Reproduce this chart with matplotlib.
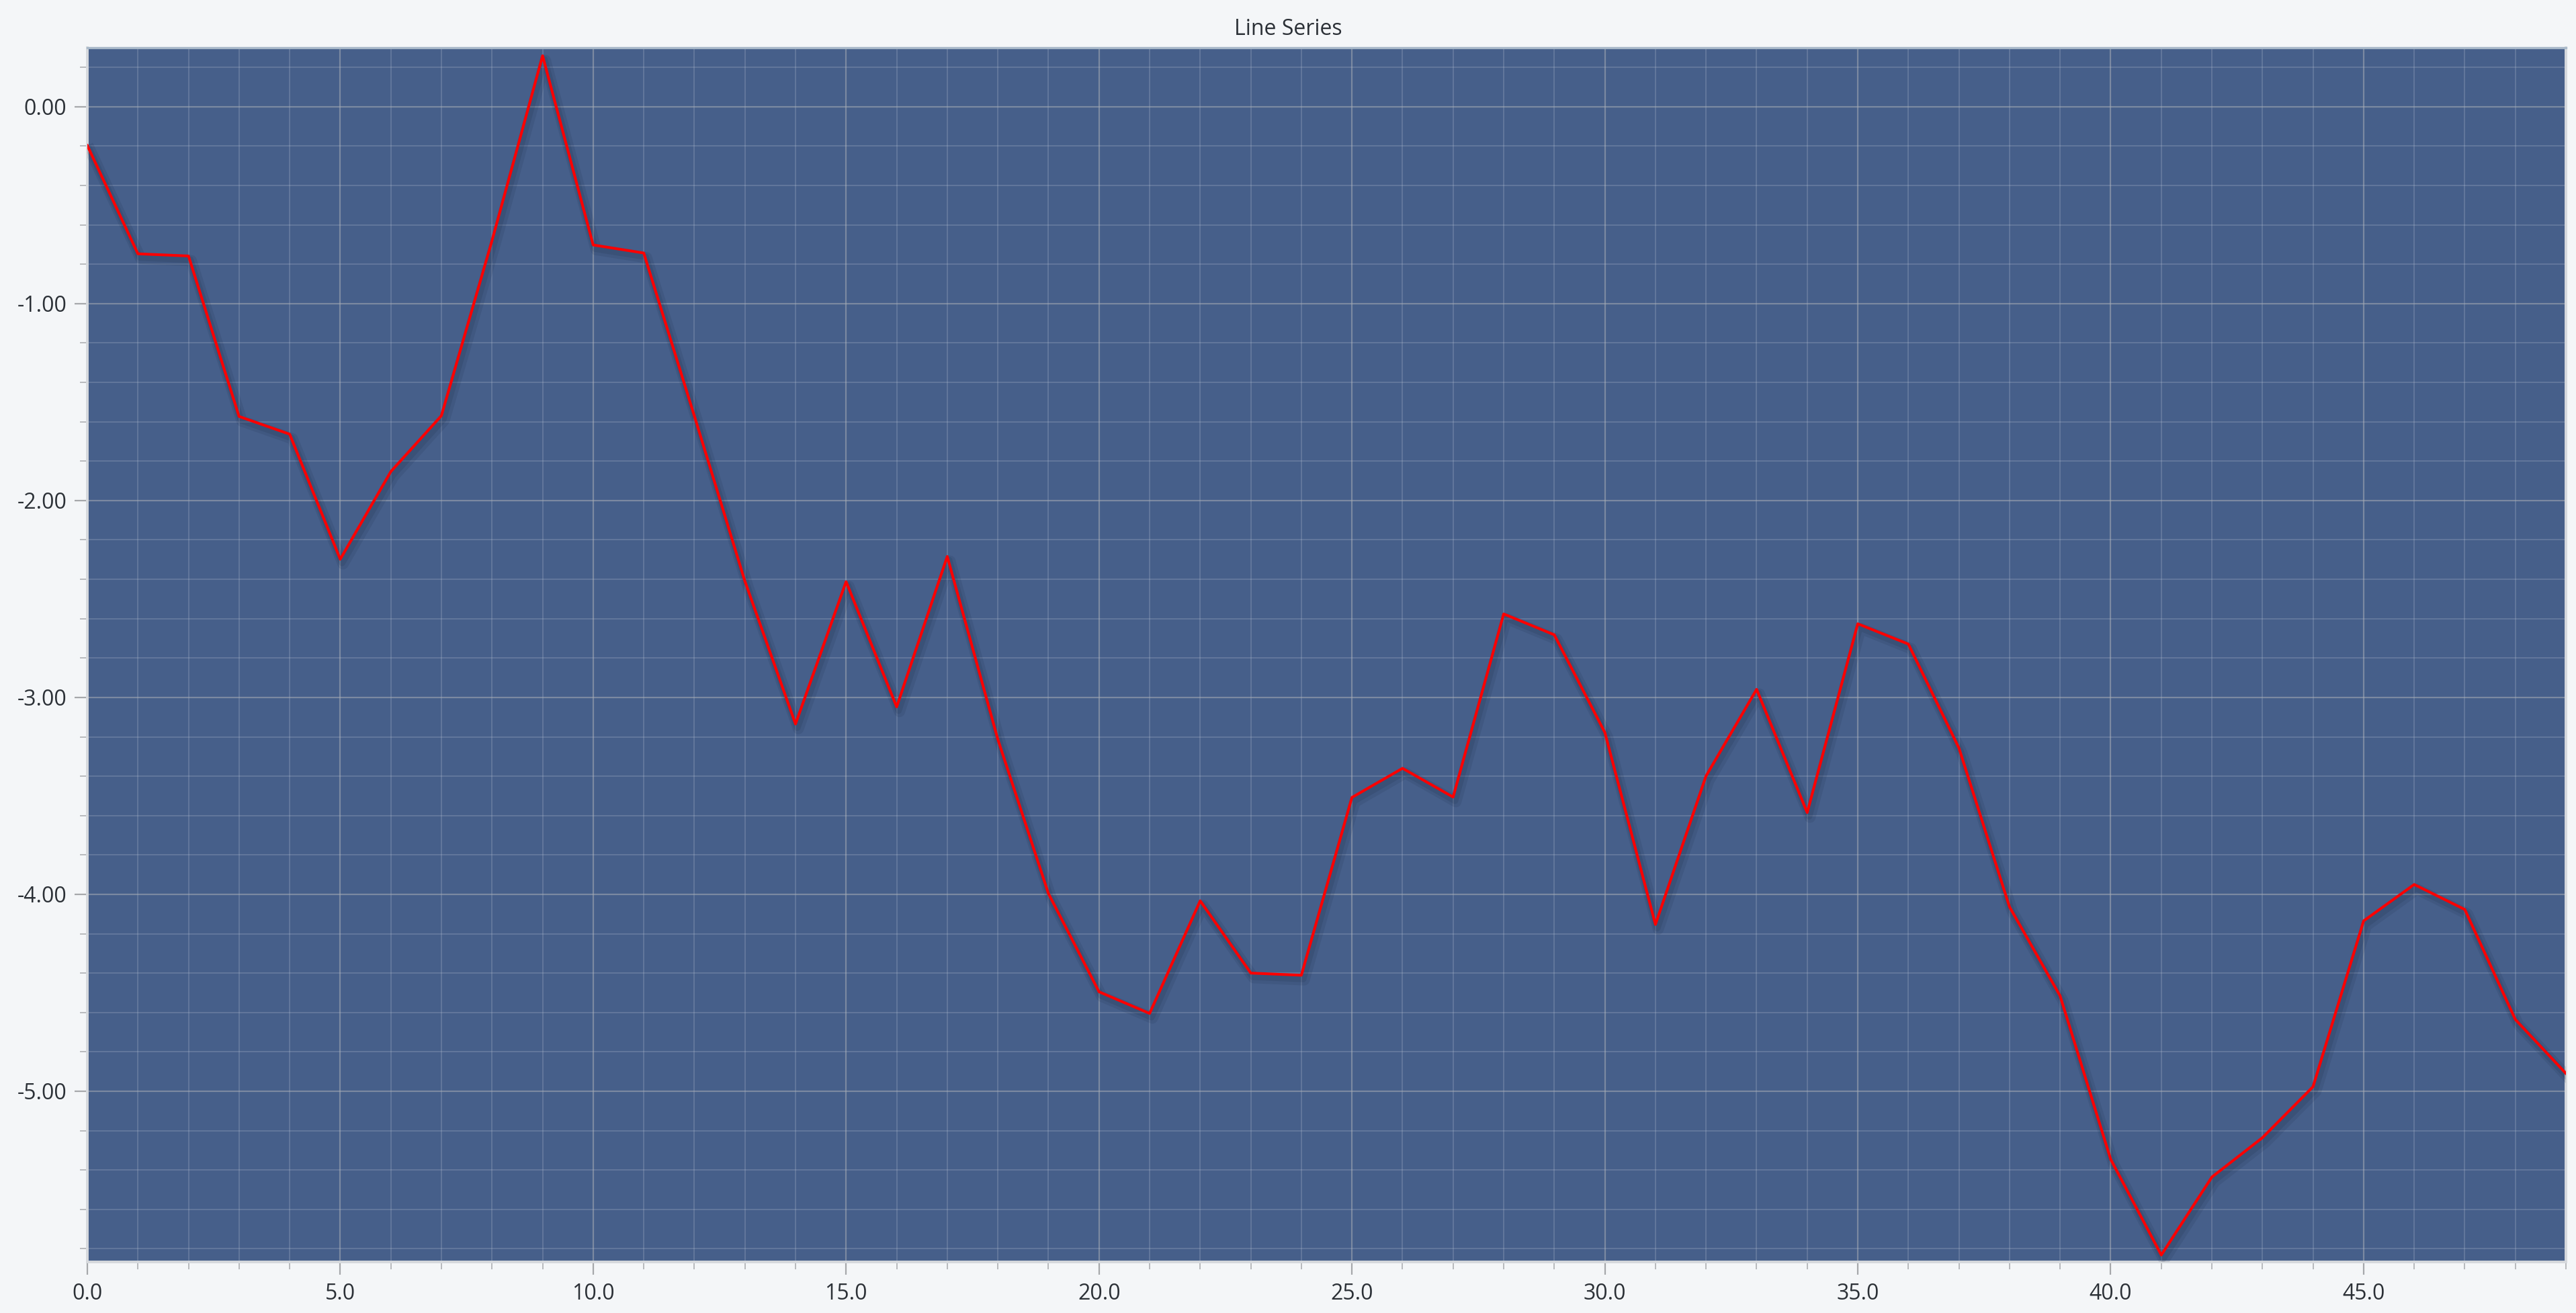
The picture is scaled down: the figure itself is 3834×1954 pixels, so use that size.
import matplotlib
matplotlib.use("Agg")
import matplotlib.pyplot as plt
import matplotlib.patheffects as pe
from matplotlib.ticker import MultipleLocator, FormatStrFormatter

plt.rcParams['font.family'] = ['Open Sans', 'DejaVu Sans']
plt.rcParams['axes.unicode_minus'] = False

################################################################################
# data
x_vals = list(range(50))
y_vals = [-0.197, -0.747, -0.758, -1.573, -1.663, -2.298, -1.853, -1.569, -0.68, 0.259,
          -0.702, -0.743, -1.57, -2.41, -3.135, -2.412, -3.048, -2.284, -3.213, -3.996,
          -4.495, -4.605, -4.033, -4.400, -4.411, -3.508, -3.360, -3.506, -2.576, -2.682,
          -3.178, -4.153, -3.399, -2.959, -3.585, -2.626, -2.729, -3.257, -4.064, -4.516,
          -5.346, -5.832, -5.436, -5.236, -4.977, -4.135, -3.950, -4.077, -4.636, -4.91]
title = "Line Series"

################################################################################
fig = plt.figure(figsize=(38.34, 19.54), dpi=100, facecolor='#f4f6f8')
ax = fig.add_axes([0.0339, 0.0389, 0.9622, 0.9248])
ax.set_facecolor('#465f8a')

# soft drop shadow under the red line
shadow = [pe.SimpleLineShadow(offset=(3, -5), shadow_color='#1c2a44', alpha=0.12, linewidth=12),
          pe.SimpleLineShadow(offset=(2, -4), shadow_color='#1c2a44', alpha=0.15, linewidth=7)]
ax.plot(x_vals, y_vals, color='#ff0000', lw=2.9, zorder=5,
        path_effects=shadow + [pe.Normal()])

ax.set_xlim(0, 49)
ax.set_ylim(-5.867, 0.30)

ax.xaxis.set_major_locator(MultipleLocator(5))
ax.xaxis.set_minor_locator(MultipleLocator(1))
ax.yaxis.set_major_locator(MultipleLocator(1))
ax.yaxis.set_minor_locator(MultipleLocator(0.2))
ax.xaxis.set_major_formatter(FormatStrFormatter('%.1f'))
ax.yaxis.set_major_formatter(FormatStrFormatter('%.2f'))

ax.grid(which='major', color='#a8adb5', alpha=0.55, lw=1.6)
ax.grid(which='minor', color='#b4bed0', alpha=0.28, lw=1.3)
ax.set_axisbelow(True)

ax.tick_params(which='major', length=14, width=1.6, color='#a6a8ab', labelsize=23,
               labelcolor='#2b3036')
ax.tick_params(which='minor', length=8, width=1.4, color='#b8babd')
ax.tick_params(axis='x', which='major', pad=8)
ax.tick_params(axis='y', which='major', pad=8)

# first x label sits to the right of its tick, like in the reference
fig.canvas.draw()
first = ax.get_xticklabels()[0]
if first.get_text() == '0.0':
    first.set_horizontalalignment('left')

ax.spines['top'].set_color('#a9b9c9')
ax.spines['top'].set_linewidth(2.4)
for s in ['left', 'bottom', 'right']:
    ax.spines[s].set_color('#d6d9dd')
    ax.spines[s].set_linewidth(2.8)

fig.text(0.5, 1 - 44 / 1954, title, ha='center', va='center', fontsize=23, color='#2b3036')

fig.savefig('out.png', dpi=100, facecolor=fig.get_facecolor())
